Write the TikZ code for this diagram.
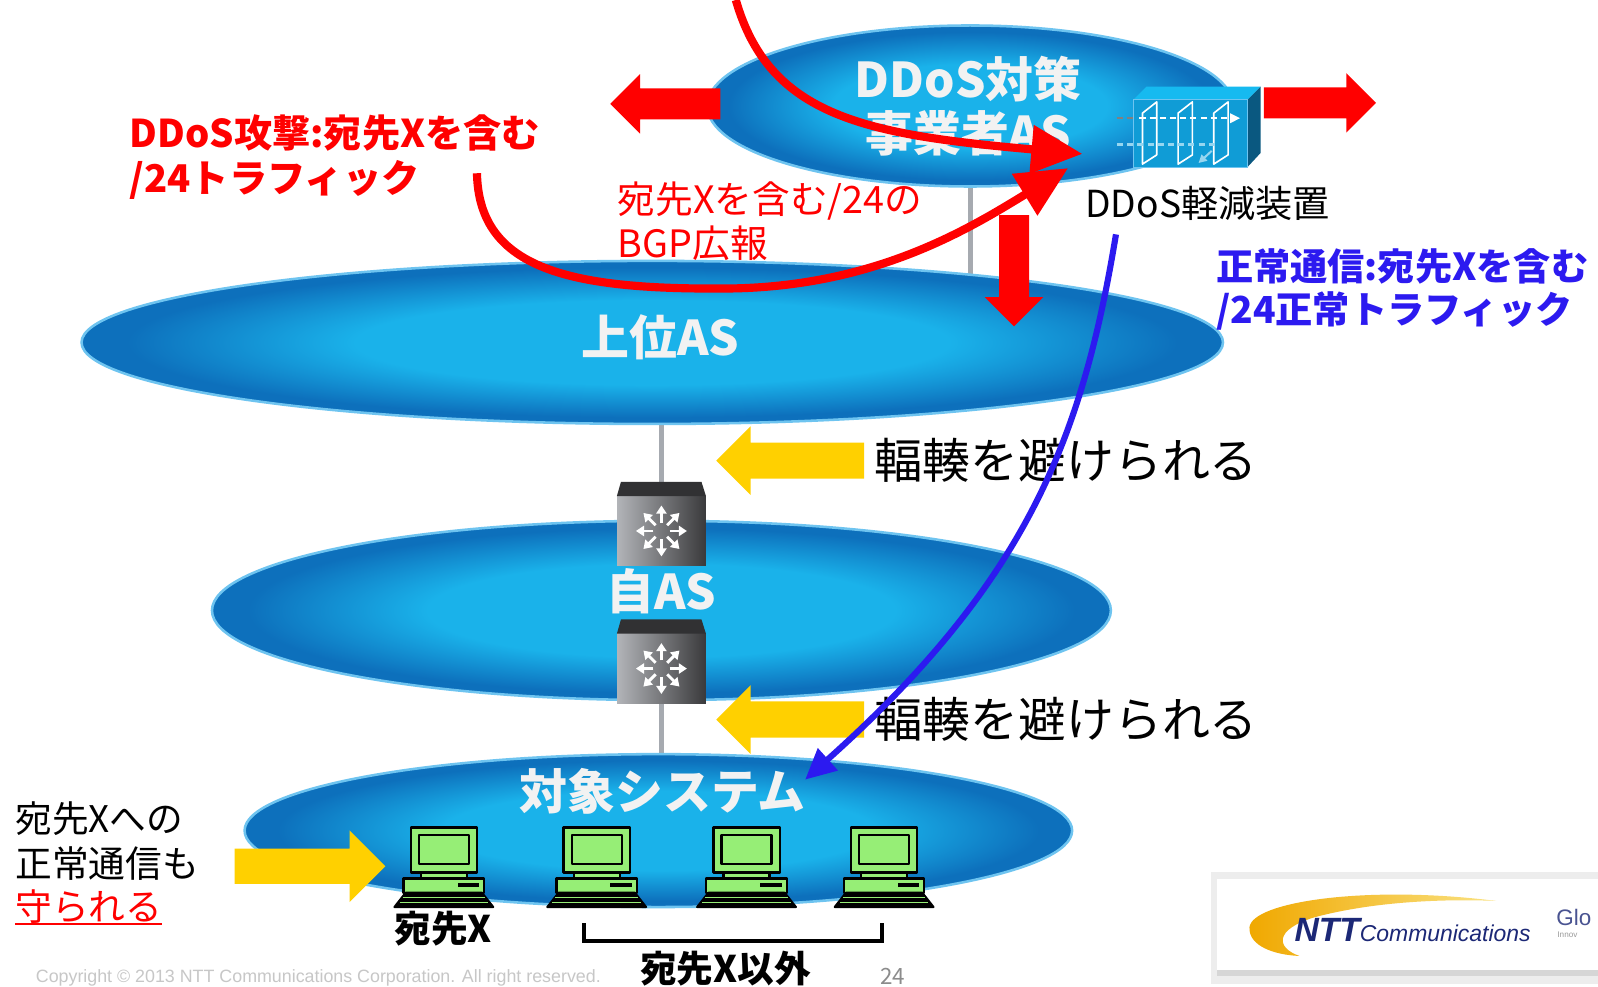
\documentclass[tikz,border=0pt]{standalone}
\usepackage{fontspec}
\setmainfont{Noto Sans CJK JP}
\newfontfamily\logofont{Liberation Sans}
\usetikzlibrary{positioning}
\usetikzlibrary{shapes.geometric}
\usetikzlibrary{shapes.arrows}
\usetikzlibrary{arrows.meta}
\usetikzlibrary{calc}
\pgfdeclarelayer{background}
\pgfsetlayers{background,main}

\definecolor{asdeep}{RGB}{13,112,188}
\definecolor{asglow}{RGB}{26,178,234}
\definecolor{asrim}{RGB}{110,196,240}
\definecolor{asfont}{RGB}{242,242,242}
\definecolor{attackred}{RGB}{255,0,0}
\definecolor{cleanblue}{RGB}{44,26,240}
\definecolor{relief}{RGB}{255,208,0}
\definecolor{wire}{RGB}{166,170,176}
\definecolor{pcgreen}{RGB}{150,238,118}
\definecolor{routerlight}{RGB}{178,180,184}
\definecolor{routerdark}{RGB}{58,58,60}
\definecolor{devfront}{RGB}{16,156,214}
\definecolor{devtop}{RGB}{22,186,240}
\definecolor{devside}{RGB}{10,88,128}
\definecolor{devdash}{RGB}{150,214,240}
\definecolor{nttnavy}{RGB}{28,40,118}

\pgfdeclareradialshading{asshade}{\pgfpoint{0bp}{0bp}}{%
  color(0bp)=(asglow); color(13bp)=(asglow); color(23bp)=(asdeep); color(50bp)=(asdeep)}

\tikzset{
    asnet/.style={
           ellipse,
           inner sep=0pt,
           draw=asrim, line width=2.5pt,
           shading=asshade,
           },
    aslabel/.style={
           text=asfont,
           font=\fontsize{47}{53}\selectfont\bfseries,
           inner sep=0pt,
           align=center,
           },
    attacktext/.style={
           text=attackred,
           font=\fontsize{37.5}{44}\selectfont\bfseries,
           inner sep=0pt,
           align=left,
           },
    cleantext/.style={
           text=cleanblue,
           font=\fontsize{36.5}{42}\selectfont\bfseries,
           inner sep=0pt,
           align=left,
           },
    notetext/.style={
           font=\fontsize{36}{44}\selectfont,
           inner sep=0pt,
           align=left,
           },
    relieftext/.style={
           font=\fontsize{47}{50}\selectfont,
           inner sep=0pt,
           },
    pctext/.style={
           font=\fontsize{36}{40}\selectfont\bfseries,
           inner sep=0pt,
           },
    redblock/.style={
           single arrow,
           fill=attackred,
           inner sep=15pt,
           single arrow head extend=14pt,
           single arrow tip angle=90,
           anchor=tail,
           },
    reliefblock/.style={
           single arrow,
           fill=relief,
           inner sep=17.5pt,
           single arrow head extend=16pt,
           single arrow tip angle=90,
           minimum height=145pt,
           anchor=tail,
           },
    routerbody/.style={
           rectangle,
           inner sep=0pt,
           minimum width=87pt, minimum height=68pt,
           left color=routerlight, right color=routerdark,
           },
    routerarrow/.style={white, line width=2.8pt, -{Triangle[length=8pt,width=10pt]}},
    pcline/.style={draw=black, fill=pcgreen, line width=2.2pt, line join=round},
    wire/.style={draw=wire, line width=5pt},
    attackflow/.style={draw=attackred, line width=8pt, -{Triangle[length=50pt,width=46pt]}},
    cleanflow/.style={draw=cleanblue, line width=6pt, -{Triangle[length=30pt,width=28pt]}},
}

\begin{document}
\begin{tikzpicture}[x=1pt, y=-1pt]
	\useasboundingbox (0,0) rectangle (1568,968);
	\begin{pgfonlayer}{background}
		\fill[white] (0,0) rectangle (1568,968);
	\end{pgfonlayer}

	% the four networks
	\node[asnet, minimum width=1120pt, minimum height=160pt] (upperas) at (640,336) {};
	\node[asnet, minimum width=882pt, minimum height=176pt] (ownas) at (649,599) {};
	\node[asnet, minimum width=812pt, minimum height=150pt] (target) at (646,815) {};
	\node[asnet, minimum width=516pt, minimum height=158pt] (ddosas) at (952,104) {};

	\node[aslabel] (ddoslbl) at (950,104) {DDoS対策\\事業者AS};
	\node[aslabel] (upperlbl) at (648,331) {上位AS};
	\node[aslabel] (ownlbl) at (649,580) {自AS};
	\node[aslabel] (tgtlbl) at (650,776) {対象システム};

	% routers of the own AS
	\foreach \n/\y in {rtra/521, rtrb/656} {
		\node[routerbody] (\n) at (649,\y) {};
		\fill[routerdark!85!black] (\n.north west) -- ++(4,-14) -- ++(79,0) -- (\n.north east) -- cycle;
		\foreach \a in {0,45,...,315}
			\draw[routerarrow] ($(\n)+(\a:8)$) -- ($(\n)+(\a:25)$);
	}

	\begin{pgfonlayer}{background}
		\draw[wire] (ddosas.center) -- (ddosas.center |- upperas.center);
		\draw[wire] (rtra |- upperas.center) -- (rtrb |- target.center);
	\end{pgfonlayer}

	% mitigation appliance
	\node[inner sep=0pt, minimum width=125pt, minimum height=79pt] (scrubber) at (1174.5,124.5) {};
	\fill[devtop] (1112,98) -- (1125,85) -- (1237,85) -- (1224,98) -- cycle;
	\fill[devside] (1224,98) -- (1237,85) -- (1237,150) -- (1224,164) -- cycle;
	\filldraw[fill=devfront, draw=asrim, line width=1pt] (1112,98) rectangle (1224,164);
	\foreach \x in {1121,1156,1191}
		\draw[white, line width=1.6pt, line join=round] (\x,111) -- (\x+14,100) -- (\x+14,152) -- (\x,161) -- cycle;
	\draw[gray, line width=2.5pt, dash pattern=on 6pt off 4pt] (1096,116) -- (1112,116);
	\draw[white, line width=2.5pt, dash pattern=on 6pt off 4pt, -{Triangle[length=10pt,width=9pt]}] (1118,116) -- (1217,116);
	\draw[devdash, line width=2.5pt, dash pattern=on 6pt off 4pt] (1096,142) -- (1194,142);
	\draw[devdash, line width=2pt, -{Triangle[length=8pt,width=8pt]}] (1189,148) -- (1176,160);
	\node[font=\fontsize{36.5}{40}\selectfont, inner sep=0pt] (scrublbl) at (1185,200) {DDoS軽減装置};

	% block arrows
	\node[redblock, shape border rotate=180, minimum height=108pt] (wdrawl) at (707,102) {};
	\node[redblock, minimum height=110pt] (wdrawr) at (1240,101) {};
	\node[redblock, shape border rotate=270, minimum height=109pt, inner sep=14.5pt] (divert) at (995,211) {};
	\node[reliefblock, shape border rotate=180] (reliefa) at (848,452) {};
	\node[reliefblock, shape border rotate=180] (reliefb) at (848,706) {};
	\node[reliefblock, minimum height=148pt, inner sep=17pt, single arrow head extend=18pt] (reliefc) at (230,850) {};

	% notes
	\node[attacktext, anchor=west] (atknote) at (127,154) {DDoS攻撃:宛先Xを含む\\/24トラフィック};
	\node[notetext, text=attackred, font=\fontsize{37}{43}\selectfont, anchor=west] (bgpnote) at (606,217) {宛先Xを含む/24の\\BGP広報};
	\node[cleantext, anchor=west] (cleannote) at (1193,284) {正常通信:宛先Xを含む\\/24正常トラフィック};
	\node[relieftext, anchor=west] (reliefta) at (858,452) {輻輳を避けられる};
	\node[relieftext, anchor=west] (relieftb) at (858,706) {輻輳を避けられる};
	\node[notetext, anchor=west] (dstnote) at (15,825) {宛先Xへの\\正常通信も};
	\node[notetext, text=attackred, anchor=west] (kept) at (15,890) {守られる};
	\draw[attackred, line width=2pt] (kept.south west) -- (kept.south east);

	% hosts of the target system
	\foreach \ml/\n in {403/pcx, 553/pcb, 700/pcc, 835/pcd} {
		\begin{scope}[shift={(\ml,812)}]
			\draw[pcline] (0,0) rectangle (65,44);
			\draw[pcline] (8,7) rectangle (57,36);
			\draw[pcline] (10,44) rectangle (55,50);
			\draw[pcline] (-7,50) rectangle (72,64);
			\fill (46,54) rectangle (67,58);
			\filldraw[fill=black, draw=black, line width=2pt, line join=round] (-5,64) -- (70,64) -- (81,78) -- (-16,78) -- cycle;
			\draw[pcgreen, line width=0.8pt] (-8,69) -- (73,69) (-11,73) -- (76,73);
		\end{scope}
		\node[inner sep=0pt, minimum width=97pt, minimum height=78pt] (\n) at (\ml+32,851) {};
	}
	\node[pctext, below=4pt of pcx] (xname) {宛先X};
	\draw[line width=4pt] (573,906) -- (573,923) -- (865,923) -- (865,906);
	\node[pctext] (othername) at (712,950) {宛先X以外};

	% traffic flows
	\coordinate (atksrc) at (722,0);
	\coordinate (atkin) at (1062,151);
	\coordinate (bgpsrc) at (468,170);
	\coordinate (bgpdst) at (1048,165);
	\coordinate (cleanout) at (1095,230);
	\coordinate (tgtin) at (790,765);
	\draw[attackflow] (atksrc) .. controls (755,115) and (850,132) .. (atkin);
	\draw[attackflow] (bgpsrc) .. controls (470,265) and (560,285) .. (720,283)
	                           .. controls (860,280) and (950,225) .. (bgpdst);
	\draw[cleanflow] (cleanout) .. controls (1062,430) and (1008,570) .. (tgtin);

	% footer
	\node[text=black!22, font=\logofont\fontsize{17.5}{20}\selectfont, inner sep=0pt, anchor=west] (copy) at (35,960)
		{Copyright © 2013 NTT Communications Corporation. All right reserved.};
	\node[text=black!45, font=\fontsize{22}{24}\selectfont, inner sep=0pt] (pageno) at (876,958) {24};

	% company logo
	\fill[black!7] (1188,856) rectangle (1568,966);
	\fill[white] (1194,862) rectangle (1568,952);
	\fill[black!16] (1194,952) rectangle (1568,958);
	\shade[left color={rgb,255:red,240;green,168;blue,0}, right color={rgb,255:red,250;green,226;blue,130}]
		(1468,884) .. controls (1340,868) and (1228,885) .. (1226,910)
		.. controls (1225,928) and (1250,937) .. (1275,938)
		.. controls (1252,930) and (1250,912) .. (1290,900)
		.. controls (1350,884) and (1420,882) .. (1468,884) -- cycle;
	\node[text=nttnavy, font=\logofont\itshape, inner sep=0pt, anchor=west] (nttname) at (1270,913)
		{{\fontsize{33}{33}\selectfont\bfseries NTT}{\fontsize{22.5}{23}\selectfont Communications}};
	\node[text=nttnavy!80, font=\logofont\fontsize{22}{22}\selectfont, inner sep=0pt, anchor=west] (glo) at (1527,900) {Glo};
	\node[text=black!40, font=\logofont\fontsize{8}{8}\selectfont, inner sep=0pt, anchor=west] (innov) at (1528,917) {Innov};
\end{tikzpicture}
\end{document}
